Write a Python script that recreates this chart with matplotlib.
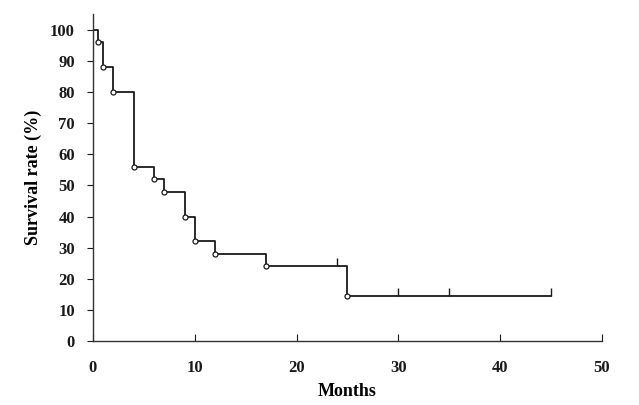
# Kaplan-Meier style survival curve
import matplotlib
matplotlib.use("Agg")
import matplotlib.pyplot as plt

# Step curve: time of each drop and survival after it
event_months = [0.46, 1.0, 2.0, 4.0, 6.0, 7.0, 9.0, 10.0, 12.0, 17.0, 25.0]
event_survival = [96, 88, 80, 56, 52, 48, 40, 32, 28, 24, 14.4]
# Censored observations
censor_months = [24.0, 30.0, 35.0, 45.0]
censor_survival = [24, 14.4, 14.4, 14.4]
end_month = 45.0

x_ticks = [0, 10, 20, 30, 40, 50]
y_ticks = [0, 10, 20, 30, 40, 50, 60, 70, 80, 90, 100]

plt.rcParams["font.family"] = ["Liberation Serif", "DejaVu Serif"]
plt.rcParams["font.weight"] = "bold"

fig = plt.figure(figsize=(6.39, 4.05), dpi=100)
ax = fig.add_axes([0.1455, 0.158, 0.7965, 0.807])

# Build step path
xs = [0]
ys = [100]
level = 100
for t, s in zip(event_months, event_survival):
    xs += [t, t]
    ys += [level, s]
    level = s
xs.append(end_month)
ys.append(level)
ax.plot(xs, ys, color="#1a1a1a", lw=1.3, zorder=2)

# Open circles at each event
ax.plot(event_months, event_survival, "o", ms=3.6, mfc="white",
        mec="#1a1a1a", mew=0.9, zorder=3)

# Censor ticks (upward only)
ax.vlines(censor_months, censor_survival,
          [v + 2.6 for v in censor_survival], color="#1a1a1a", lw=1.0,
          zorder=2)

ax.set_xlim(0, 50)
ax.set_ylim(0, 105)
ax.set_xticks(x_ticks)
ax.set_yticks(y_ticks)
ax.spines["top"].set_visible(False)
ax.spines["right"].set_visible(False)
for sp in ["left", "bottom"]:
    ax.spines[sp].set_linewidth(1.0)
    ax.spines[sp].set_color("#333333")
ax.tick_params(axis="x", direction="in", length=5, pad=14, labelsize=12,
               colors="#1a1a1a")
ax.tick_params(axis="y", direction="out", length=4, pad=9, labelsize=12,
               colors="#1a1a1a")
for lab in ax.get_xticklabels() + ax.get_yticklabels():
    lab.set_fontweight("bold")

ax.set_xlabel("Months", fontsize=13, fontweight="bold", labelpad=5)
ax.set_ylabel("Survival rate (%)", fontsize=13, fontweight="bold", labelpad=6)

fig.savefig("out.png", dpi=100, facecolor="white")
